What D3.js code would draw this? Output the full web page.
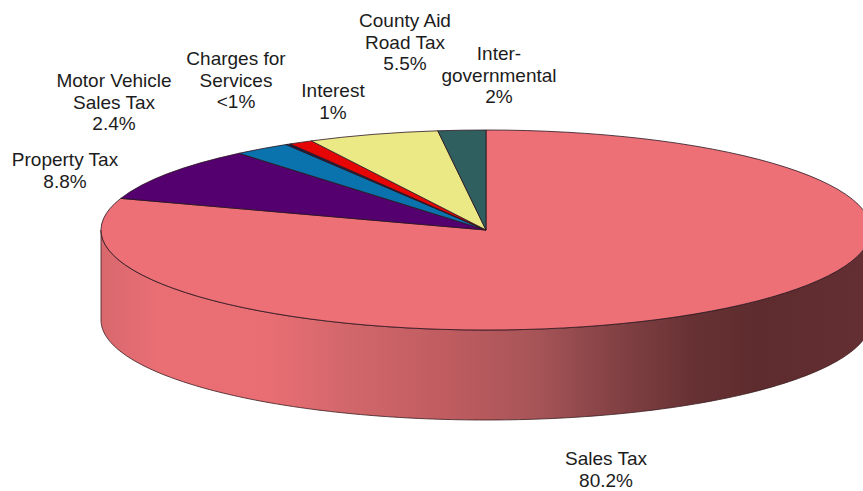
<!DOCTYPE html>
<html>
<head>
<meta charset="utf-8">
<script src="https://cdn.jsdelivr.net/npm/d3@7"></script>
<style>
  html, body { margin: 0; padding: 0; background: #fff; }
  svg { display: block; }
  text { font-family: "Liberation Sans", Arial, sans-serif; font-size: 19px; fill: #1c1c1c; }
</style>
</head>
<body>
<div id="chart"></div>
<script>
var categories = ["Sales Tax", "Property Tax", "Motor Vehicle Sales Tax", "Charges for Services", "Interest", "County Aid Road Tax", "Inter-governmental"];
var shares = [80.2, 8.8, 2.4, 0.2, 1, 5.5, 2];
var labels = [
    ["Sales Tax", "80.2%"],
    ["Property Tax", "8.8%"],
    ["Motor Vehicle", "Sales Tax", "2.4%"],
    ["Charges for", "Services", "<1%"],
    ["Interest", "1%"],
    ["County Aid", "Road Tax", "5.5%"],
    ["Inter-", "governmental", "2%"]
];
var colors = ["#ec7076", "#54006e", "#0a72ac", "#1c1c40", "#e60505", "#ebe886", "#2f5f5f"];
var labelPos = [[606, 465], [65, 166], [114, 87], [236, 65], [333, 97], [405, 27], [499, 60]];

var width = 863, height = 491;
var cx = 486, cy = 230, rx = 385, ry = 100, depth = 90;

var svg = d3.select("#chart").append("svg")
    .attr("width", width)
    .attr("height", height);

// horizontal shading of the pie wall
var grad = svg.append("defs").append("linearGradient")
    .attr("id", "wall")
    .attr("gradientUnits", "userSpaceOnUse")
    .attr("x1", cx - rx).attr("x2", cx + rx).attr("y1", 0).attr("y2", 0);
[[0, "#d8686d"], [0.08, "#ea6f75"], [0.22, "#e86e73"], [0.33, "#d0666a"], [0.45, "#bf5c60"],
 [0.56, "#a85558"], [0.66, "#864346"], [0.765, "#683234"], [0.856, "#5e2c2e"], [1, "#642f32"]].forEach(function (s) {
    grad.append("stop").attr("offset", s[0]).attr("stop-color", s[1]);
});

// the wall: lower half of the top ellipse down to the lower half of the bottom ellipse
var wall = d3.area()
    .x(function (t) { return cx + rx * Math.cos(t); })
    .y0(function (t) { return cy + ry * Math.sin(t); })
    .y1(function (t) { return cy + depth + ry * Math.sin(t); });

svg.append("path")
    .datum(d3.range(0, 181).map(function (d) { return d * Math.PI / 180; }))
    .attr("d", wall)
    .attr("fill", "url(#wall)")
    .attr("stroke", "#3a1c1e")
    .attr("stroke-width", 0.8);

// top face, a flat pie squashed into an ellipse
var pie = d3.pie().sort(null).startAngle(0).endAngle(2 * Math.PI);
var arc = d3.arc().innerRadius(0).outerRadius(rx);

svg.append("g")
    .attr("transform", "translate(" + cx + "," + cy + ") scale(1," + (ry / rx) + ")")
    .selectAll("path")
    .data(pie(shares))
    .join("path")
    .attr("d", arc)
    .attr("fill", function (d, i) { return colors[i]; })
    .attr("stroke", "#2a1420")
    .attr("stroke-width", 0.8)
    .attr("vector-effect", "non-scaling-stroke");

// labels
var lab = svg.append("g").selectAll("text")
    .data(labels)
    .join("text")
    .attr("text-anchor", "middle")
    .attr("transform", function (d, i) { return "translate(" + labelPos[i][0] + "," + labelPos[i][1] + ")"; });

lab.selectAll("tspan")
    .data(function (d) { return d; })
    .join("tspan")
    .attr("x", 0)
    .attr("y", function (d, i) { return i * 21.7; })
    .text(function (d) { return d; });
</script>
</body>
</html>
